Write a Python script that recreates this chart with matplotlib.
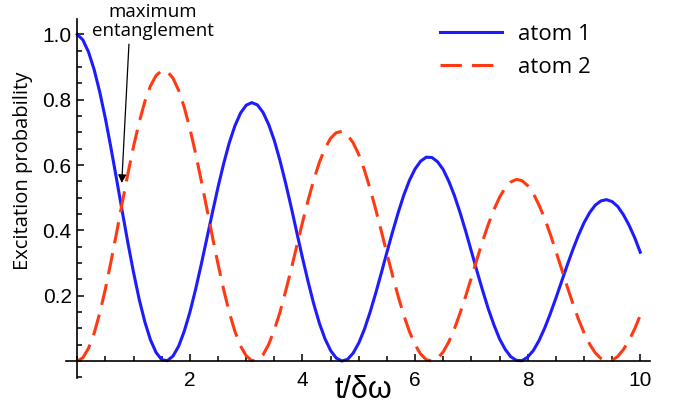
import matplotlib
matplotlib.use('Agg')
import matplotlib.pyplot as plt
from matplotlib.ticker import MultipleLocator

# values, t step 0.1 from 0 to 10
t = [i / 10 for i in range(101)]

atom1 = [1.000, 0.983, 0.946, 0.892, 0.823, 0.742, 0.651, 0.555, 0.457, 0.361,
         0.271, 0.189, 0.120, 0.065, 0.026, 0.004, 0.001, 0.015, 0.045, 0.091,
         0.149, 0.218, 0.294, 0.374, 0.454, 0.532, 0.604, 0.668, 0.720, 0.759,
         0.783, 0.791, 0.784, 0.761, 0.724, 0.675, 0.614, 0.545, 0.471, 0.393,
         0.316, 0.243, 0.175, 0.116, 0.068, 0.032, 0.009, 0.000, 0.005, 0.024,
         0.055, 0.097, 0.149, 0.207, 0.269, 0.333, 0.395, 0.454, 0.508, 0.553,
         0.588, 0.612, 0.624, 0.623, 0.610, 0.586, 0.550, 0.506, 0.454, 0.397,
         0.336, 0.275, 0.216, 0.160, 0.111, 0.068, 0.036, 0.013, 0.002, 0.001,
         0.012, 0.032, 0.062, 0.100, 0.144, 0.192, 0.242, 0.292, 0.340, 0.384,
         0.423, 0.454, 0.477, 0.490, 0.494, 0.488, 0.473, 0.448, 0.416, 0.378,
         0.333]

atom2 = [0.000, 0.010, 0.039, 0.085, 0.147, 0.221, 0.305, 0.394, 0.485, 0.574,
         0.657, 0.731, 0.794, 0.842, 0.874, 0.889, 0.886, 0.866, 0.829, 0.777,
         0.712, 0.637, 0.554, 0.468, 0.381, 0.297, 0.219, 0.149, 0.091, 0.046,
         0.016, 0.001, 0.003, 0.019, 0.051, 0.095, 0.149, 0.213, 0.281, 0.353,
         0.424, 0.492, 0.554, 0.608, 0.651, 0.682, 0.699, 0.703, 0.692, 0.668,
         0.632, 0.585, 0.528, 0.465, 0.398, 0.329, 0.262, 0.198, 0.140, 0.090,
         0.050, 0.021, 0.004, 0.000, 0.008, 0.028, 0.059, 0.099, 0.147, 0.199,
         0.255, 0.312, 0.367, 0.418, 0.463, 0.501, 0.530, 0.548, 0.556, 0.552,
         0.537, 0.513, 0.478, 0.437, 0.389, 0.337, 0.283, 0.229, 0.177, 0.129,
         0.087, 0.052, 0.025, 0.008, 0.000, 0.002, 0.014, 0.035, 0.063, 0.098,
         0.140]

xticks = [2, 4, 6, 8, 10]
yticks = [0.2, 0.4, 0.6, 0.8, 1.0]

# arrow for "maximum entanglement": tip on the crossing, tail under the text
tip = (0.79, 0.545)
tail = (0.918, 0.97)

blue = '#1c1cff'
red = '#ff3a12'

fig = plt.figure(figsize=(6.88, 4.09), dpi=100)
ax = fig.add_axes([66 / 688, 31 / 409, 584.4 / 688, 359 / 409])

ax.plot(t, atom1, color=blue, lw=2.2, label='atom 1')
ax.plot(t, atom2, color=red, lw=2.2, dashes=(7, 3.3), label='atom 2')

ax.set_xlim(-0.2, 10.18)
ax.set_ylim(-0.052, 1.047)

ax.spines['left'].set_position(('data', 0))
ax.spines['bottom'].set_position(('data', 0))
ax.spines['top'].set_visible(False)
ax.spines['right'].set_visible(False)
for s in ['left', 'bottom']:
    ax.spines[s].set_linewidth(1.2)

ax.set_xticks(xticks)
ax.set_yticks(yticks)
ax.set_yticklabels(['%.1f' % v for v in yticks])
ax.xaxis.set_minor_locator(MultipleLocator(0.5))
ax.yaxis.set_minor_locator(MultipleLocator(0.05))
ax.tick_params(which='both', direction='in', width=1.1,
               labelsize=15, labelfontfamily='Liberation Sans')
ax.tick_params(which='major', length=5)
ax.tick_params(which='minor', length=3.5)
ax.tick_params(axis='x', pad=7)
ax.tick_params(axis='y', pad=4)

fig.text(363 / 688, (409 - 390) / 409, 't/δω', fontsize=22, ha='center',
         va='center', family='Liberation Sans')
fig.text(23 / 688, (409 - 171) / 409, 'Excitation probability', fontsize=14.5,
         rotation=90, ha='center', va='center', family='Open Sans')

ax.text(1.345, 1.04, 'maximum\nentanglement', ha='center', va='center',
        fontsize=13.5, family='Open Sans', linespacing=1.05, clip_on=False)
ax.annotate('', xy=tip, xytext=tail, annotation_clip=False,
            arrowprops=dict(arrowstyle='-|>', color='black', lw=0.9,
                            mutation_scale=12, shrinkA=0, shrinkB=0))

ax.legend(loc='upper left', bbox_to_anchor=(440 / 688, (409 - 24) / 409),
          bbox_transform=fig.transFigure, frameon=False, borderpad=0,
          borderaxespad=0, handlelength=2.8, handletextpad=0.7,
          labelspacing=0.55, prop={'family': 'Open Sans', 'size': 16})

fig.savefig('out.png', dpi=100)
